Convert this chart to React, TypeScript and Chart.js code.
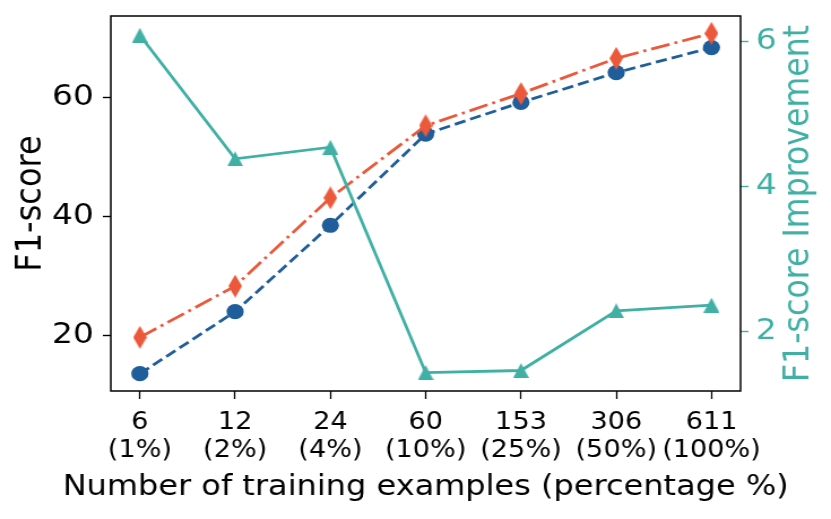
import { useEffect, useRef } from "react"
import { Chart, registerables } from "chart.js"

// Register Chart.js components
Chart.register(...registerables)

// x categories: number of training examples and their share
const exampleCounts = ["6", "12", "24", "60", "153", "306", "611"]
const examplePercents = ["(1%)", "(2%)", "(4%)", "(10%)", "(25%)", "(50%)", "(100%)"]

// F1-scores (left axis)
const baselineF1 = [13.6, 24.0, 38.5, 53.8, 59.1, 64.1, 68.3]
const oursF1 = [19.7, 28.3, 43.1, 55.2, 60.6, 66.5, 70.7]

// F1-score improvement (right axis)
const improvement = [6.08, 4.38, 4.54, 1.44, 1.47, 2.29, 2.37]

const leftTicks = [20, 40, 60]
const rightTicks = [2, 4, 6]

const BLUE = "#1F5E9B"
const RED = "#EC583A"
const TEAL = "#40B0A5"
const FONT = "'DejaVu Sans', sans-serif"

// the source figure is a little wider than tall, so draw narrower and stretch
const W = 735
const H = 519
const STRETCH = 831 / W

// matplotlib-like markers drawn into small canvases
function markerImage(color: string, w: number, h: number, kind: "diamond" | "triangle") {
  const c = document.createElement("canvas")
  c.width = w
  c.height = h
  const ctx = c.getContext("2d")!
  ctx.fillStyle = color
  ctx.beginPath()
  if (kind === "diamond") {
    ctx.moveTo(w / 2, 0)
    ctx.lineTo(w, h / 2)
    ctx.lineTo(w / 2, h)
    ctx.lineTo(0, h / 2)
  } else {
    ctx.moveTo(w / 2, 0)
    ctx.lineTo(w, h)
    ctx.lineTo(0, h)
  }
  ctx.closePath()
  ctx.fill()
  return c
}

const noPadding = (scale: any) => {
  scale.paddingTop = 0
  scale.paddingBottom = 0
  scale.paddingLeft = 0
  scale.paddingRight = 0
}

// box around the plot, x title and right axis title (reads bottom to top)
// drawn here so the text is not squeezed to the axis width
const framePlugin = {
  id: "frame",
  afterDatasetsDraw(chart: Chart) {
    const { ctx, chartArea: a } = chart
    ctx.save()
    ctx.strokeStyle = "#000"
    ctx.lineWidth = 1.5
    ctx.strokeRect(a.left, a.top, a.right - a.left, a.bottom - a.top)

    ctx.textAlign = "center"
    ctx.textBaseline = "alphabetic"
    ctx.font = `28.3px ${FONT}`
    ctx.fillStyle = "#000"
    ctx.fillText("Number of training examples (percentage %)", (a.left + a.right) / 2, chart.height - 23.8)

    ctx.font = `31.6px ${FONT}`
    ctx.fillStyle = TEAL
    ctx.translate(chart.width - 20.5, (a.top + a.bottom) / 2)
    ctx.rotate(-Math.PI / 2)
    ctx.fillText("F1-score Improvement", 0, 0)
    ctx.restore()
  },
}

export default function App() {
  const chartRef = useRef<HTMLCanvasElement>(null)
  const chartInstance = useRef<Chart | null>(null)

  useEffect(() => {
    document.body.style.margin = "0"
    if (!chartRef.current) return
    if (chartInstance.current) chartInstance.current.destroy()

    const ctx = chartRef.current.getContext("2d")
    if (!ctx) return

    const idx = exampleCounts.map((_, i) => i)

    chartInstance.current = new Chart(ctx, {
      type: "line",
      data: {
        datasets: [
          {
            label: "Improvement",
            data: idx.map((i) => ({ x: i, y: improvement[i] })),
            yAxisID: "y2",
            borderColor: TEAL,
            backgroundColor: TEAL,
            borderWidth: 2.8,
            pointStyle: markerImage(TEAL, 14, 15, "triangle"),
            pointRadius: 8,
          },
          {
            label: "Ours",
            data: idx.map((i) => ({ x: i, y: oursF1[i] })),
            yAxisID: "y",
            borderColor: RED,
            backgroundColor: RED,
            borderWidth: 2.8,
            borderDash: [17, 4.5, 2.7, 4.5],
            pointStyle: markerImage(RED, 12, 23, "diamond"),
            pointRadius: 10,
          },
          {
            label: "Baseline",
            data: idx.map((i) => ({ x: i, y: baselineF1[i] })),
            yAxisID: "y",
            borderColor: BLUE,
            backgroundColor: BLUE,
            borderWidth: 2.8,
            borderDash: [10, 4.5],
            pointStyle: "circle",
            pointRadius: 7.6,
            pointBorderWidth: 0,
          },
        ],
      },
      options: {
        responsive: false,
        animation: false,
        devicePixelRatio: 1,
        layout: { padding: { top: 16, left: 0, right: 0, bottom: 0 } },
        plugins: {
          legend: { display: false },
          tooltip: { enabled: false },
        },
        scales: {
          x: {
            type: "linear",
            min: -0.305,
            max: 6.305,
            afterBuildTicks: (scale) => {
              scale.ticks = idx.map((v) => ({ value: v }))
            },
            afterFit: (scale) => {
              scale.height = 128
              noPadding(scale)
            },
            border: { display: false },
            grid: { drawOnChartArea: false, tickLength: 8, tickColor: "#000", tickWidth: 1.3 },
            ticks: {
              autoSkip: false,
              maxRotation: 0,
              minRotation: 0,
              padding: 9,
              color: "#000",
              font: { family: FONT, size: 24, lineHeight: 1.2 },
              callback: (value) => [exampleCounts[value as number], examplePercents[value as number]],
            },
          },
          y: {
            type: "linear",
            position: "left",
            min: 10.7,
            max: 73.6,
            afterBuildTicks: (scale) => {
              scale.ticks = leftTicks.map((v) => ({ value: v }))
            },
            afterFit: (scale) => {
              scale.width = 98
              noPadding(scale)
            },
            border: { display: false },
            grid: { drawOnChartArea: false, tickLength: 7, tickColor: "#000", tickWidth: 1.4 },
            ticks: {
              padding: 8,
              color: "#000",
              font: { family: FONT, size: 29 },
            },
            title: {
              display: true,
              text: "F1-score",
              color: "#000",
              font: { family: FONT, size: 32 },
              padding: { top: 8.5, bottom: 0 },
            },
          },
          y2: {
            type: "linear",
            position: "right",
            min: 1.188,
            max: 6.344,
            afterBuildTicks: (scale) => {
              scale.ticks = rightTicks.map((v) => ({ value: v }))
            },
            afterFit: (scale) => {
              scale.width = 80
              noPadding(scale)
            },
            border: { display: false },
            grid: { drawOnChartArea: false, tickLength: 7, tickColor: TEAL, tickWidth: 1.4 },
            ticks: {
              padding: 6.5,
              color: TEAL,
              font: { family: FONT, size: 29 },
            },
          },
        },
      },
      plugins: [framePlugin],
    })

    return () => {
      if (chartInstance.current) {
        chartInstance.current.destroy()
        chartInstance.current = null
      }
    }
  }, [])

  return (
    <div style={{ width: 831, height: H, overflow: "hidden", background: "#fff" }}>
      <canvas
        ref={chartRef}
        width={W}
        height={H}
        style={{ width: W, height: H, display: "block", transform: `scaleX(${STRETCH})`, transformOrigin: "0 0" }}
      />
    </div>
  )
}
